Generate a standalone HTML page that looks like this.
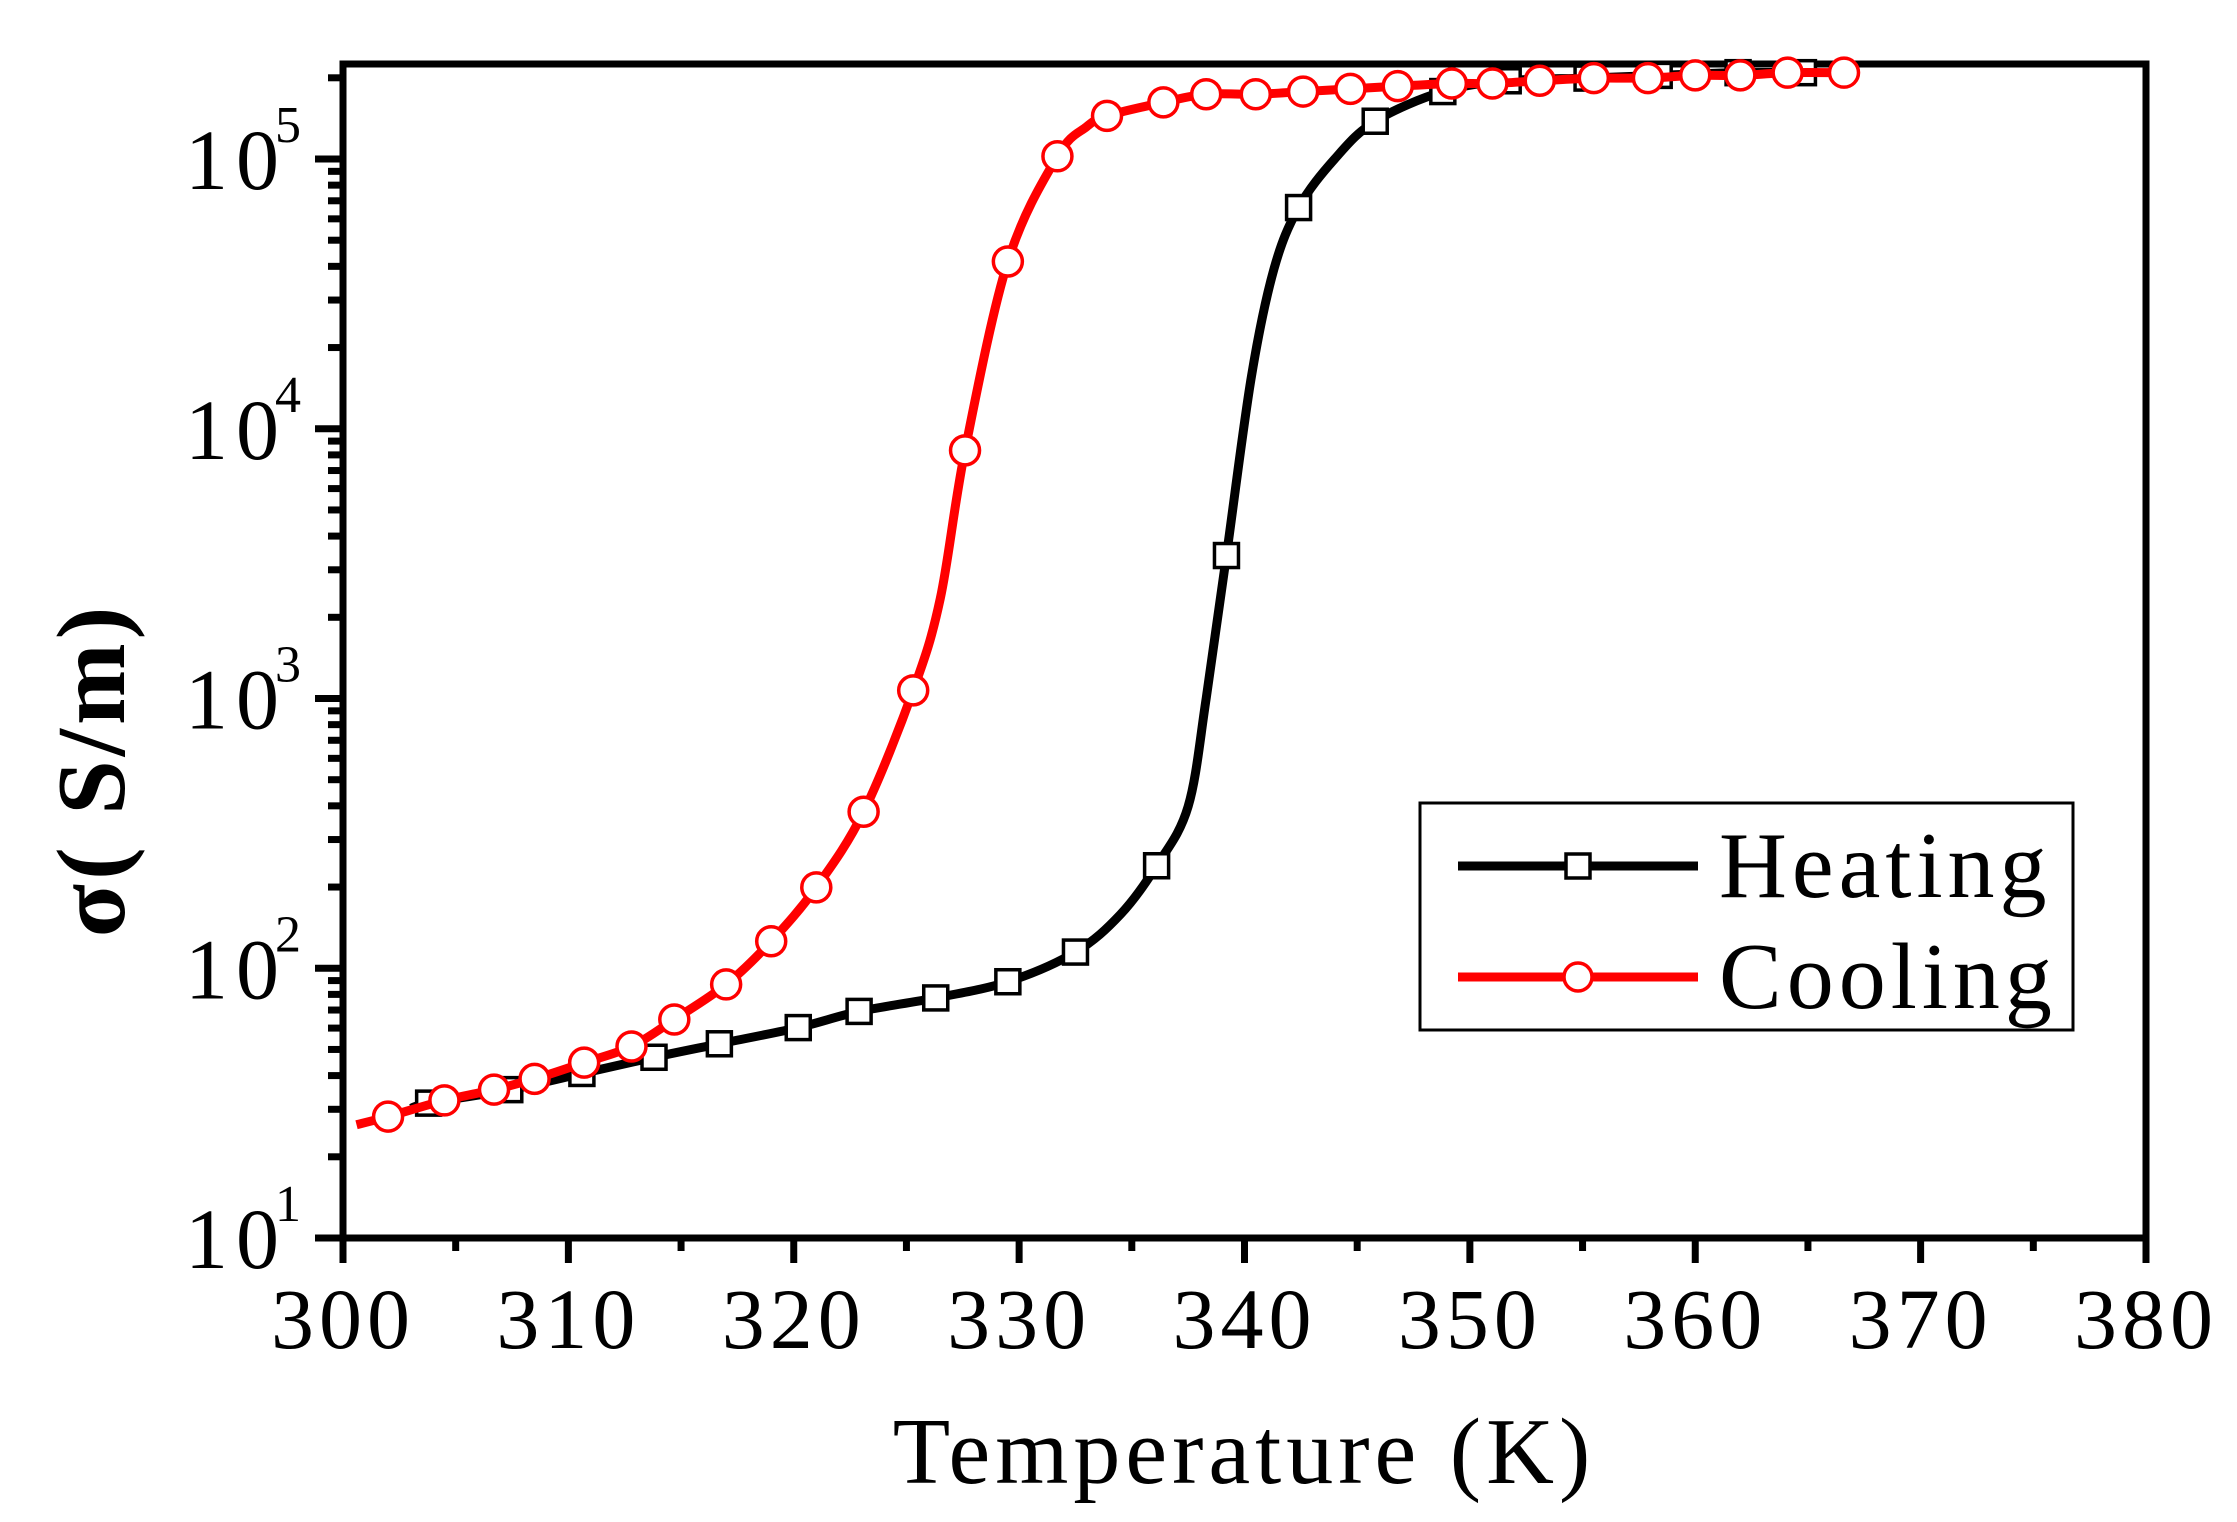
<!DOCTYPE html>
<html><head><meta charset="utf-8"><style>html,body{margin:0;padding:0;background:#fff}svg{display:block}</style></head>
<body>
<svg id="chart" width="2237" height="1522" viewBox="0 0 2237 1522" xmlns="http://www.w3.org/2000/svg" font-family="'Liberation Serif', serif">
<g id="axes"></g>
<g id="series"></g>
<text x="1244" y="1483" font-size="94" text-anchor="middle" letter-spacing="5">Temperature (K)</text>
<text transform="translate(124,770) rotate(-90)" font-size="98" text-anchor="middle" font-weight="bold" letter-spacing="4">σ( S/m)</text>
<g>
<rect x="1420" y="803" width="653" height="227" fill="#fff" stroke="#000" stroke-width="3"/>
<g>
<line x1="1458" y1="866" x2="1698" y2="866" stroke="#000" stroke-width="9"/>
<rect x="1566" y="854" width="24" height="24" fill="#fff" stroke="#000" stroke-width="3.5"/>
<text x="1719" y="897" font-size="94" letter-spacing="5">Heating</text>
</g>
<g>
<line x1="1458" y1="977" x2="1698" y2="977" stroke="#ff0000" stroke-width="9"/>
<circle cx="1578" cy="977" r="14" fill="#fff" stroke="#ff0000" stroke-width="3.5"/>
<text x="1719" y="1008" font-size="94" letter-spacing="5">Cooling</text>
</g>
</g>
</svg>
<script>
const xTicks = [300,310,320,330,340,350,360,370,380];
const yDecades = [1,2,3,4,5];
const heatT = [303.8,307.4,310.6,313.8,316.7,320.2,322.9,326.3,329.5,332.5,336.1,339.2,342.4,345.8,348.8,351.7,355.2,358.4,361.9,364.8];
const heatLog = [1.50,1.55,1.61,1.67,1.72,1.78,1.84,1.89,1.95,2.06,2.38,3.53,4.82,5.14,5.25,5.29,5.30,5.31,5.32,5.32];
const heatLineT = [303.0,303.8,307.4,310.6,313.8,316.7,320.2,322.9,326.3,329.5,332.5,334.5,336.1,337.5,338.3,339.2,340.3,341.3,342.4,344.0,345.8,348.8,351.7,355.2,358.4,361.9,364.8];
const heatLineLog = [1.48,1.50,1.55,1.61,1.67,1.72,1.78,1.84,1.89,1.95,2.06,2.20,2.38,2.60,3.00,3.53,4.19,4.59,4.82,5.00,5.14,5.25,5.29,5.30,5.31,5.32,5.32];
const coolT = [302.0,304.5,306.7,308.5,310.7,312.8,314.7,317.0,319.0,321.0,323.1,325.3,327.6,329.5,331.7,333.9,336.4,338.3,340.5,342.6,344.7,346.8,349.2,351.0,353.1,355.5,357.9,360.0,362.0,364.1,366.6];
const coolLog = [1.45,1.51,1.55,1.59,1.65,1.71,1.81,1.94,2.10,2.30,2.58,3.03,3.92,4.62,5.01,5.16,5.21,5.24,5.24,5.25,5.26,5.27,5.28,5.28,5.29,5.30,5.30,5.31,5.31,5.32,5.32];
const coolLineT = [300.6,302.0,304.5,306.7,308.5,310.7,312.8,314.7,317.0,319.0,321.0,323.1,325.3,326.5,327.6,329.5,331.7,333.0,333.9,336.4,338.3,340.5,342.6,344.7,346.8,349.2,351.0,353.1,355.5,357.9,360.0,362.0,364.1,366.6];
const coolLineLog = [1.42,1.45,1.51,1.55,1.59,1.65,1.71,1.81,1.94,2.10,2.30,2.58,3.03,3.37,3.92,4.62,5.01,5.12,5.16,5.21,5.24,5.24,5.25,5.26,5.27,5.28,5.28,5.29,5.30,5.30,5.31,5.31,5.32,5.32];

const L=343,R=2146,B=1238,T=64,DEC=269.75;
function xs(t){return L+(t-300)/80*(R-L);}
function ys(lg){return B-(lg-1)*DEC;}
const NS="http://www.w3.org/2000/svg";
function mk(tag,attrs,parent){const e=document.createElementNS(NS,tag);for(const k in attrs)e.setAttribute(k,attrs[k]);parent.appendChild(e);return e;}
const ax=document.getElementById('axes');
const frame=mk('rect',{x:L,y:T,width:R-L,height:B-T,fill:'none',stroke:'#000','stroke-width':7},ax);


xTicks.forEach((t,i)=>{
  const x=xs(t);
  const tk=mk('line',{x1:x,y1:B,x2:x,y2:B+25,stroke:'#000','stroke-width':7},ax);
  
  
  if(i<xTicks.length-1){const xm=xs(t+5);
    const mt=mk('line',{x1:xm,y1:B,x2:xm,y2:B+13,stroke:'#000','stroke-width':7},ax);
    
    }
  const lb=mk('text',{x:x,y:B+110,'font-size':86,'text-anchor':'middle','letter-spacing':5},ax);
  lb.textContent=String(t);
  
  
});
yDecades.forEach(d=>{
  const y=ys(d);
  const tk=mk('line',{x1:L-28,y1:y,x2:L,y2:y,stroke:'#000','stroke-width':7},ax);
  
  
  for(let m=2;m<=9;m++){const lg=d+Math.log10(m); if(lg>5.352)break;
    const yy=ys(lg);
    const mt=mk('line',{x1:L-15,y1:yy,x2:L,y2:yy,stroke:'#000','stroke-width':7},ax);
    
    }
  const lb=mk('text',{x:185,y:y+30,'font-size':86,'text-anchor':'start','letter-spacing':8},ax);
  lb.textContent='10';
  
  
  const sp=mk('text',{x:275,y:y-17,'font-size':52},ax);
  sp.textContent=String(d);
  
  
});
function smooth(px){let d='M'+px[0][0]+','+px[0][1];
  for(let i=0;i<px.length-1;i++){const p0=px[Math.max(0,i-1)],p1=px[i],p2=px[i+1],p3=px[Math.min(px.length-1,i+2)];
    const c1=[p1[0]+(p2[0]-p0[0])/6,p1[1]+(p2[1]-p0[1])/6],c2=[p2[0]-(p3[0]-p1[0])/6,p2[1]-(p3[1]-p1[1])/6];
    d+=' C'+c1[0]+','+c1[1]+' '+c2[0]+','+c2[1]+' '+p2[0]+','+p2[1];}
  return d;}
const sg=document.getElementById('series');
const hl=mk('path',{d:smooth(heatLineT.map((t,i)=>[xs(t),ys(heatLineLog[i])])),fill:'none',stroke:'#000','stroke-width':9},sg);


heatT.forEach((t,i)=>{
  const r=mk('rect',{x:xs(t)-12,y:ys(heatLog[i])-12,width:24,height:24,fill:'#fff',stroke:'#000','stroke-width':3.5},sg);
  
  
});
const cl=mk('path',{d:smooth(coolLineT.map((t,i)=>[xs(t),ys(coolLineLog[i])])),fill:'none',stroke:'#ff0000','stroke-width':9},sg);


coolT.forEach((t,i)=>{
  const c=mk('circle',{cx:xs(t),cy:ys(coolLog[i]),r:14.5,fill:'#fff',stroke:'#ff0000','stroke-width':3.5},sg);
  
  
});
</script>
</body></html>
